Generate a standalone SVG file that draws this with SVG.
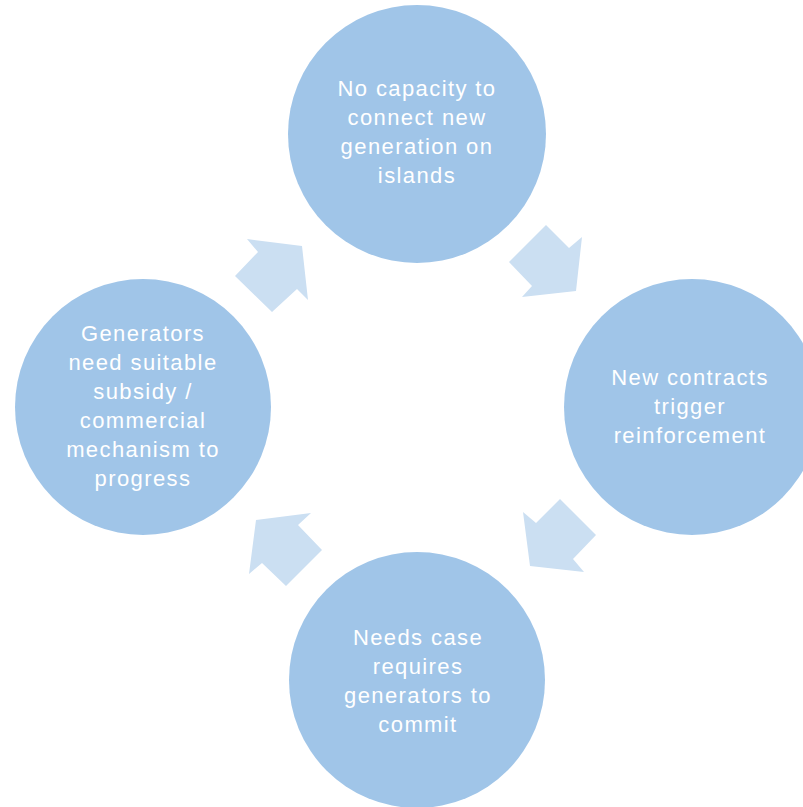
<svg xmlns="http://www.w3.org/2000/svg" width="803" height="807" viewBox="0 0 803 807">
<style>
.c{fill:#A0C5E8}
.a{fill:#CBDFF2}
.t{fill:#FFFFFF;font-family:"Liberation Sans",Arial,sans-serif;font-size:22px;text-anchor:middle;letter-spacing:1.4px}
</style>
<rect width="803" height="807" fill="#FFFFFF"/>
<g id="connectors">
<polygon class="a" points="302,246 247,239 258,252 235,276 272,312 297,289 308,300"/>
<polygon class="a" points="546,225 569,248 582,237 576,291 522,297 532,286 509,262"/>
<polygon class="a" points="560,499 596,535 573,559 584,572 530,566 523,512 536,523"/>
<polygon class="a" points="256,520 311,513 298,525 322,550 286,586 262,563 249,574"/>
</g>
<g id="node-top">
<circle class="c" cx="417" cy="134" r="129"/>
<text class="t" x="417" y="96">No capacity to</text>
<text class="t" x="417" y="125">connect new</text>
<text class="t" x="417" y="154">generation on</text>
<text class="t" x="417" y="183">islands</text>
</g>
<g id="node-right">
<circle class="c" cx="692" cy="407" r="128"/>
<text class="t" x="690" y="385">New contracts</text>
<text class="t" x="690" y="414">trigger</text>
<text class="t" x="690" y="443">reinforcement</text>
</g>
<g id="node-bottom">
<circle class="c" cx="417" cy="680" r="128"/>
<text class="t" x="418" y="645">Needs case</text>
<text class="t" x="418" y="674">requires</text>
<text class="t" x="418" y="703">generators to</text>
<text class="t" x="418" y="732">commit</text>
</g>
<g id="node-left">
<circle class="c" cx="143" cy="407" r="128"/>
<text class="t" x="143" y="341">Generators</text>
<text class="t" x="143" y="370">need suitable</text>
<text class="t" x="143" y="399">subsidy /</text>
<text class="t" x="143" y="428">commercial</text>
<text class="t" x="143" y="457">mechanism to</text>
<text class="t" x="143" y="486">progress</text>
</g>
</svg>
